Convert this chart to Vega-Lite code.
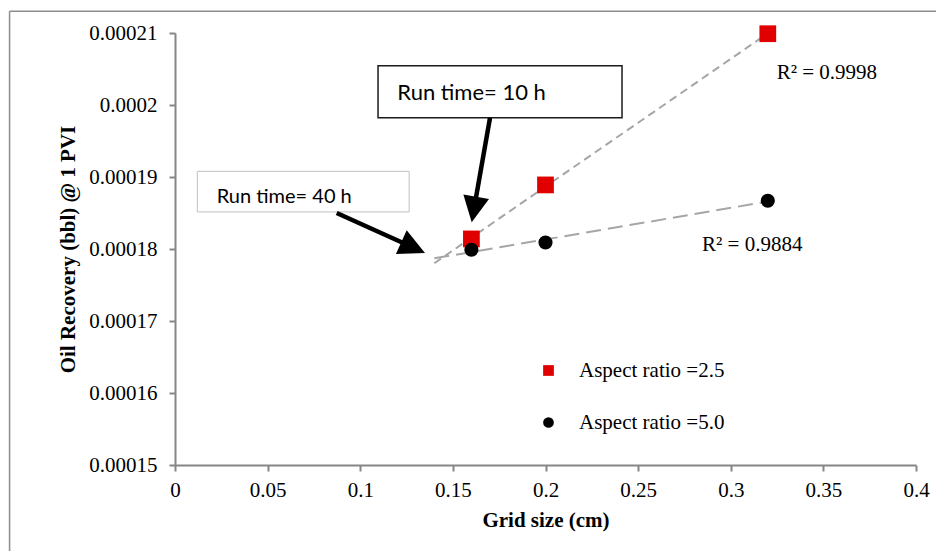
{
  "$schema": "https://vega.github.io/schema/vega-lite/v6.json",
  "width": 741,
  "height": 432,
  "autosize": {"type": "none"},
  "padding": {"left": 175, "top": 33, "right": 20, "bottom": 86},
  "background": "white",
  "config": {
    "view": {"stroke": null},
    "font": "Liberation Serif",
    "axis": {
      "grid": false,
      "domainColor": "#868686",
      "domainWidth": 2,
      "tickColor": "#868686",
      "tickWidth": 2,
      "tickSize": 6,
      "labelFont": "Liberation Serif",
      "labelFontSize": 21,
      "labelColor": "#000000",
      "titleFont": "Liberation Serif",
      "titleFontSize": 21,
      "titleFontWeight": "bold",
      "titleColor": "#000000"
    },
    "legend": {
      "labelFont": "Liberation Serif",
      "labelFontSize": 21,
      "labelColor": "#000000",
      "symbolSize": 115,
      "symbolStrokeWidth": 0,
      "padding": 0,
      "rowPadding": 30,
      "labelOffset": 20
    }
  },
  "datasets": {
    "points": [
      {"x": 0.16, "y": 0.0001814, "series": "Aspect ratio =2.5"},
      {"x": 0.2, "y": 0.0001889, "series": "Aspect ratio =2.5"},
      {"x": 0.32, "y": 0.0002099, "series": "Aspect ratio =2.5"},
      {"x": 0.16, "y": 0.0001799, "series": "Aspect ratio =5.0"},
      {"x": 0.2, "y": 0.0001809, "series": "Aspect ratio =5.0"},
      {"x": 0.32, "y": 0.0001867, "series": "Aspect ratio =5.0"}
    ],
    "frame": [
      {"x": -0.0893, "x2": 0.412, "y": 0.00021303, "y2": 0.00021303},
      {"x": -0.0893, "x2": -0.0893, "y": 0.00021303, "y2": 0.000137}
    ],
    "r2": [
      {"x": 0.3248, "y": 0.00020445, "label": "R² = 0.9998"},
      {"x": 0.2845, "y": 0.00018056, "label": "R² = 0.9884"}
    ]
  },
  "encoding": {
    "x": {
      "field": "x",
      "type": "quantitative",
      "title": "Grid size (cm)",
      "scale": {"domain": [0, 0.4], "nice": false, "zero": false},
      "axis": {
        "values": [0, 0.05, 0.1, 0.15, 0.2, 0.25, 0.3, 0.35, 0.4],
        "format": "~g",
        "labelPadding": 8,
        "titlePadding": 9,
        "labelFlush": false
      }
    },
    "y": {
      "field": "y",
      "type": "quantitative",
      "title": "Oil Recovery (bbl) @ 1 PVI",
      "scale": {"domain": [0.00015, 0.00021], "nice": false, "zero": false},
      "axis": {
        "values": [0.00015, 0.00016, 0.00017, 0.00018, 0.00019, 0.0002, 0.00021],
        "format": ".5~f",
        "labelPadding": 12,
        "titlePadding": 10,
        "labelFlush": false
      }
    }
  },
  "layer": [
    {
      "data": {"name": "frame"},
      "mark": {"type": "rule", "color": "#8c8c8c", "strokeWidth": 1.5, "clip": false},
      "encoding": {"x2": {"field": "x2"}, "y2": {"field": "y2"}}
    },
    {
      "data": {"name": "points"},
      "transform": [
        {"filter": "datum.series === 'Aspect ratio =2.5'"},
        {"regression": "y", "on": "x", "extent": [0.14, 0.32]}
      ],
      "mark": {"type": "line", "color": "#a6a6a6", "strokeWidth": 2, "strokeDash": [8, 5]}
    },
    {
      "data": {"name": "points"},
      "transform": [
        {"filter": "datum.series === 'Aspect ratio =5.0'"},
        {"regression": "y", "on": "x", "extent": [0.14, 0.32]}
      ],
      "mark": {"type": "line", "color": "#a6a6a6", "strokeWidth": 2, "strokeDash": [15, 7]}
    },
    {
      "data": {"name": "points"},
      "transform": [{"filter": "datum.series === 'Aspect ratio =2.5'"}],
      "mark": {"type": "point", "filled": true, "opacity": 1, "strokeWidth": 0, "size": 280},
      "encoding": {
        "color": {
          "field": "series",
          "type": "nominal",
          "scale": {"domain": ["Aspect ratio =2.5", "Aspect ratio =5.0"], "range": ["#e00000", "#000000"]},
          "legend": {"title": null, "orient": "none", "legendX": 363, "legendY": 327}
        },
        "shape": {
          "field": "series",
          "type": "nominal",
          "scale": {"domain": ["Aspect ratio =2.5", "Aspect ratio =5.0"], "range": ["square", "circle"]},
          "legend": {"title": null, "orient": "none", "legendX": 363, "legendY": 327}
        }
      }
    },
    {
      "data": {"name": "points"},
      "transform": [{"filter": "datum.series === 'Aspect ratio =5.0'"}],
      "mark": {"type": "point", "filled": true, "opacity": 1, "strokeWidth": 0, "size": 200},
      "encoding": {
        "color": {
          "field": "series",
          "type": "nominal",
          "scale": {"domain": ["Aspect ratio =2.5", "Aspect ratio =5.0"], "range": ["#e00000", "#000000"]},
          "legend": {"title": null, "orient": "none", "legendX": 363, "legendY": 327}
        },
        "shape": {
          "field": "series",
          "type": "nominal",
          "scale": {"domain": ["Aspect ratio =2.5", "Aspect ratio =5.0"], "range": ["square", "circle"]},
          "legend": {"title": null, "orient": "none", "legendX": 363, "legendY": 327}
        }
      }
    },
    {
      "data": {"values": [{"x": 0.1096, "x2": 0.2413, "y": 0.00020546, "y2": 0.00019824}]},
      "mark": {"type": "rect", "fill": "#ffffff", "stroke": "#1a1a1a", "strokeWidth": 1.5},
      "encoding": {"x2": {"field": "x2"}, "y2": {"field": "y2"}}
    },
    {
      "data": {"values": [{"x": 0.01204, "x2": 0.1264, "y": 0.00019079, "y2": 0.00018515}]},
      "mark": {"type": "rect", "fill": "#ffffff", "stroke": "#c0c0c0", "strokeWidth": 1},
      "encoding": {"x2": {"field": "x2"}, "y2": {"field": "y2"}}
    },
    {
      "data": {"values": [{"x": 0.12, "y": 0.00020164, "label": "Run time= 10 h"}]},
      "mark": {"type": "text", "font": "Lato", "fontSize": 22, "align": "left", "baseline": "middle", "color": "#000000"},
      "encoding": {"text": {"field": "label"}}
    },
    {
      "data": {"values": [{"x": 0.02251, "y": 0.0001872, "label": "Run time= 40 h"}]},
      "mark": {"type": "text", "font": "Lato", "fontSize": 20, "align": "left", "baseline": "middle", "color": "#000000"},
      "encoding": {"text": {"field": "label"}}
    },
    {
      "data": {"name": "r2"},
      "mark": {"type": "text", "font": "Liberation Serif", "fontSize": 21, "align": "left", "baseline": "middle", "color": "#000000"},
      "encoding": {"text": {"field": "label"}}
    },
    {
      "data": {"values": [
        {"x": 0.17004, "y": 0.0001982, "x2": 0.16135, "y2": 0.000185485},
        {"x": 0.08729, "y": 0.00018501, "x2": 0.12858, "y2": 0.0001802}
      ]},
      "mark": {"type": "rule", "color": "#000000", "strokeWidth": 4.5, "strokeCap": "butt"},
      "encoding": {"x2": {"field": "x2"}, "y2": {"field": "y2"}}
    },
    {
      "data": {"values": [{"x": 0.16016, "y": 0.00018371}]},
      "mark": {"type": "point", "shape": "M0,0L-0.5,1L0.5,1Z", "filled": true, "opacity": 1, "color": "#000000", "strokeWidth": 0, "size": 2704, "angle": 189.9}
    },
    {
      "data": {"values": [{"x": 0.13495, "y": 0.00017946}]},
      "mark": {"type": "point", "shape": "M0,0L-0.5,1L0.5,1Z", "filled": true, "opacity": 1, "color": "#000000", "strokeWidth": 0, "size": 2704, "angle": 114.4}
    }
  ]
}
